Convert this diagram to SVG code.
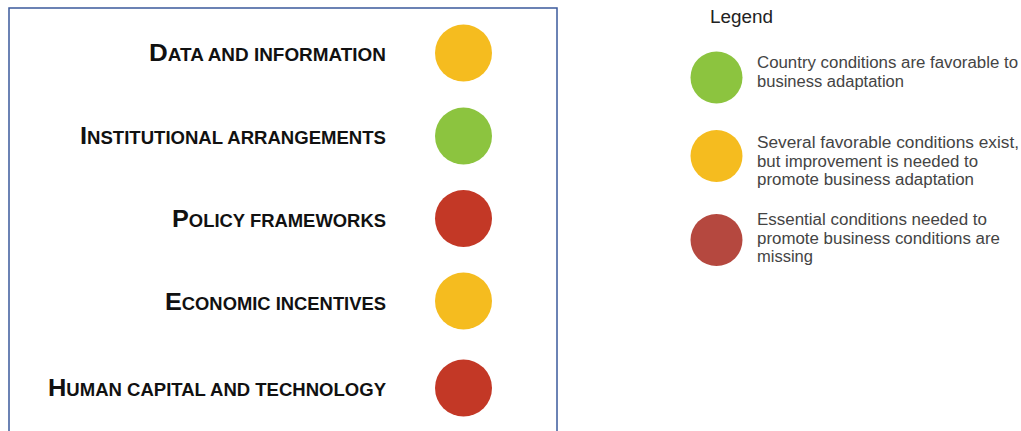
<svg xmlns="http://www.w3.org/2000/svg" width="1021" height="431" viewBox="0 0 1021 431">
<style>
.lbl{font-family:"Liberation Sans",Arial,sans-serif;font-weight:bold;fill:#111;font-size:17.5px;text-anchor:end}
.big{font-size:24px}
.leg{font-family:"Liberation Sans",Arial,sans-serif;fill:#444;font-size:16px}
.yel{fill:#F5BC1F}.grn{fill:#8CC43F}.red{fill:#C33826}.lred{fill:#B5483F}
</style>
<rect width="1021" height="431" fill="#fff"/>
<rect x="9" y="8" width="548" height="440" fill="none" stroke="#3B5A9C" stroke-width="1.5"/>
<g id="row1"><text class="lbl" x="386" y="61" textLength="237" lengthAdjust="spacingAndGlyphs"><tspan class="big">D</tspan>ATA AND INFORMATION</text><circle class="yel" cx="463.5" cy="53" r="28.5"/></g>
<g id="row2"><text class="lbl" x="386" y="144" textLength="306" lengthAdjust="spacingAndGlyphs"><tspan class="big">I</tspan>NSTITUTIONAL ARRANGEMENTS</text><circle class="grn" cx="463.5" cy="136" r="28.5"/></g>
<g id="row3"><text class="lbl" x="386" y="227" textLength="214" lengthAdjust="spacingAndGlyphs"><tspan class="big">P</tspan>OLICY FRAMEWORKS</text><circle class="red" cx="463.5" cy="218.5" r="28.5"/></g>
<g id="row4"><text class="lbl" x="386" y="310" textLength="221" lengthAdjust="spacingAndGlyphs"><tspan class="big">E</tspan>CONOMIC INCENTIVES</text><circle class="yel" cx="463.5" cy="301" r="28.5"/></g>
<g id="row5"><text class="lbl" x="386" y="396" textLength="338" lengthAdjust="spacingAndGlyphs"><tspan class="big">H</tspan>UMAN CAPITAL AND TECHNOLOGY</text><circle class="red" cx="463.5" cy="388" r="28.5"/></g>
<g id="legend">
<text x="710" y="23" font-family="Liberation Sans,Arial,sans-serif" font-size="17.5" fill="#222" textLength="63" lengthAdjust="spacingAndGlyphs">Legend</text>
<g id="leg1"><circle class="grn" cx="716.5" cy="77.5" r="26"/><text class="leg" x="757" y="68" textLength="261" lengthAdjust="spacingAndGlyphs">Country conditions are favorable to</text><text class="leg" x="757" y="87" textLength="147" lengthAdjust="spacingAndGlyphs">business adaptation</text></g>
<g id="leg2"><circle class="yel" cx="716.5" cy="156" r="26"/><text class="leg" x="757" y="148" textLength="262" lengthAdjust="spacingAndGlyphs">Several favorable conditions exist,</text><text class="leg" x="757" y="167" textLength="221" lengthAdjust="spacingAndGlyphs">but improvement is needed to</text><text class="leg" x="757" y="185" textLength="217" lengthAdjust="spacingAndGlyphs">promote business adaptation</text></g>
<g id="leg3"><circle class="lred" cx="716.5" cy="240" r="26"/><text class="leg" x="757" y="225" textLength="230" lengthAdjust="spacingAndGlyphs">Essential conditions needed to</text><text class="leg" x="757" y="244" textLength="243" lengthAdjust="spacingAndGlyphs">promote business conditions are</text><text class="leg" x="757" y="262" textLength="56" lengthAdjust="spacingAndGlyphs">missing</text></g>
</g>
</svg>
